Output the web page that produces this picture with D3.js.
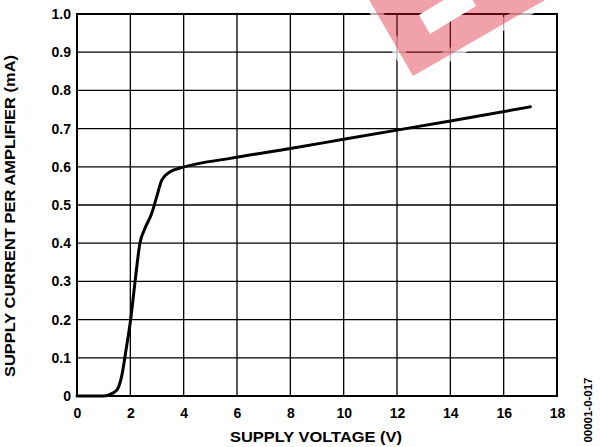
<!DOCTYPE html>
<html><head><meta charset="utf-8">
<script src="https://cdn.jsdelivr.net/npm/d3@7"></script>
<style>body{margin:0;background:#fff}svg{display:block}</style>
</head><body>
<svg id="c" width="600" height="447"></svg>
<script>
const supplyVoltage = [0, 0.5, 1.0, 1.2, 1.5, 1.67, 1.86, 2.01, 2.17, 2.36, 2.55, 2.8, 2.99, 3.18, 3.49, 3.99, 5.74, 8, 10, 12, 14, 17];
const supplyCurrent = [0, 0, 0, 0.003, 0.016, 0.05, 0.13, 0.199, 0.295, 0.40, 0.439, 0.478, 0.522, 0.565, 0.587, 0.599, 0.622, 0.648, 0.672, 0.696, 0.720, 0.757];
const xTicks = [0, 2, 4, 6, 8, 10, 12, 14, 16, 18];
const yTicks = [0, 0.1, 0.2, 0.3, 0.4, 0.5, 0.6, 0.7, 0.8, 0.9, 1.0];
const xTitle = "SUPPLY VOLTAGE (V)";
const yTitle = "SUPPLY CURRENT PER AMPLIFIER (mA)";
const figCode = "00001-0-017";

const svg = d3.select("#c");
const L = 77, R = 557, T = 14, B = 396;
const x = d3.scaleLinear().domain([0, 18]).range([L, R]);
const y = d3.scaleLinear().domain([0, 1]).range([B, T]);
const font = "Arial, 'Liberation Sans', sans-serif";

// grid
svg.append("g").selectAll("line").data(xTicks).join("line")
  .attr("x1", d => x(d)).attr("x2", d => x(d)).attr("y1", T).attr("y2", B)
  .attr("stroke", "#000").attr("stroke-width", 1.3);
svg.append("g").selectAll("line").data(yTicks).join("line")
  .attr("x1", L).attr("x2", R).attr("y1", d => y(d)).attr("y2", d => y(d))
  .attr("stroke", "#000").attr("stroke-width", 1.3);
svg.append("rect").attr("x", L).attr("y", T).attr("width", R - L).attr("height", B - T)
  .attr("fill", "none").attr("stroke", "#000").attr("stroke-width", 2);

// tick labels via axes
const xAxis = svg.append("g").attr("transform", `translate(0,${B})`)
  .call(d3.axisBottom(x).tickValues(xTicks).tickSize(0).tickPadding(12).tickFormat(d3.format("d")));
xAxis.select(".domain").remove();
xAxis.selectAll("text").attr("font-family", font).attr("font-weight", "bold").attr("font-size", 14).attr("fill", "#000");
const yAxis = svg.append("g").attr("transform", `translate(${L},0)`)
  .call(d3.axisLeft(y).tickValues(yTicks).tickSize(0).tickPadding(6).tickFormat(d => d === 0 ? "0" : d3.format(".1f")(d)));
yAxis.select(".domain").remove();
yAxis.selectAll("text").attr("font-family", font).attr("font-weight", "bold").attr("font-size", 14).attr("fill", "#000");

// titles
svg.append("text").attr("x", 316).attr("y", 441.5).attr("text-anchor", "middle")
  .attr("font-family", font).attr("font-weight", "bold").attr("font-size", 15.5)
  .attr("textLength", 172).attr("lengthAdjust", "spacingAndGlyphs").text(xTitle);
svg.append("text").attr("transform", "translate(15,216) rotate(-90)").attr("text-anchor", "middle")
  .attr("font-family", font).attr("font-weight", "bold").attr("font-size", 15.5)
  .attr("textLength", 322).attr("lengthAdjust", "spacingAndGlyphs").text(yTitle);
svg.append("text").attr("transform", "translate(592,410) rotate(-90)").attr("text-anchor", "middle")
  .attr("font-family", font).attr("font-weight", "bold").attr("font-size", 10.5)
  .attr("textLength", 65).attr("lengthAdjust", "spacingAndGlyphs").text(figCode);

// curve
const line = d3.line().x(d => x(d[0])).y(d => y(d[1])).curve(d3.curveMonotoneX);
svg.append("path").datum(supplyVoltage.map((v, i) => [v, supplyCurrent[i]]))
  .attr("d", line).attr("fill", "none").attr("stroke", "#000").attr("stroke-width", 3)
  .attr("stroke-linejoin", "round").attr("stroke-linecap", "round");

// watermark
const wm = svg.append("g");
const outer = [[368, -2], [413, 76], [552, -4]];
wm.append("polygon").attr("points", outer.map(p => p.join(",")).join(" "))
  .attr("fill", "none").attr("stroke", "#fff").attr("stroke-width", 12).attr("stroke-opacity", 0.7).attr("stroke-linejoin", "round");
wm.append("polygon").attr("points", outer.map(p => p.join(",")).join(" "))
  .attr("fill", "rgb(220,20,40)").attr("fill-opacity", 0.4);
const inner = [[419, 15], [430, 34], [476, 6], [465, -13]];
wm.append("polygon").attr("points", inner.map(p => p.join(",")).join(" ")).attr("fill", "#fff");
</script>
</body></html>
